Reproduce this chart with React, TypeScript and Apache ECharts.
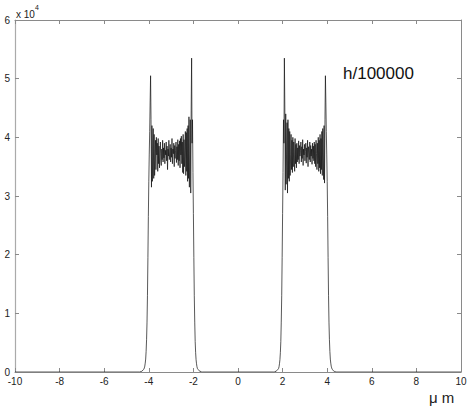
import { useEffect, useRef } from "react";
import * as echarts from "echarts";

// x range / ticks
const xMin = -10;
const xMax = 10;
const xStep = 2;
const yMin = 0;
const yMax = 6; // units of 10^4
const yStep = 1;

// sample spacing of the profile (µm)
const sampleStep = 0.02;

// left block: samples from -4.40 µm
const leftStart = -4.4;
const leftRise = [
  0.0, 0.0, 0.01, 0.01, 0.01, 0.02, 0.02, 0.03, 0.04, 0.05, 0.07, 0.1, 0.15, 0.22, 0.35, 0.55, 0.85,
  1.3, 1.95, 2.65, 3.25, 3.7, 4.1, 4.6, 5.05,
];
const leftNoise = [
  4.3, 3.15, 4.2, 3.25, 3.9, 4.15, 3.3, 4.05, 3.35, 3.6, 3.95,
  3.45, 4.0, 3.7, 3.9, 3.42, 3.98, 3.55, 3.85, 3.48, 3.72, 3.92, 3.6, 3.52, 3.8, 3.62,
  3.95, 3.58, 3.82, 3.65, 3.9, 3.55, 3.78, 3.7, 3.92, 3.6, 3.85, 3.45, 3.8, 3.68, 3.95, 3.62, 3.75, 3.88, 3.58, 3.82,
  3.66, 3.98, 3.55, 3.8, 3.72, 3.9, 3.5, 3.86, 3.64, 3.78, 3.92, 3.57, 3.84, 3.62, 3.96, 3.52, 3.88, 3.6, 3.94,
  3.48, 3.98, 3.7, 4.02, 3.55, 3.92, 3.4, 4.05, 3.38, 3.96, 3.5, 3.8, 4.1, 3.35, 4.08, 3.42,
  4.15, 3.25, 4.2, 3.3, 4.35, 3.15, 3.7, 4.3, 3.05, 4.45,
];
const leftFall = [
  5.35, 3.9, 4.3, 3.4, 2.7, 1.95, 1.3, 0.85, 0.52, 0.33, 0.21, 0.14, 0.09, 0.06, 0.05, 0.04, 0.03, 0.02,
  0.02, 0.01, 0.01, 0.01, 0.0, 0.0, 0.0,
];

// right block: samples from 1.60 µm
const rightStart = 1.6;
const rightRise = [
  0.0, 0.0, 0.0, 0.01, 0.01, 0.01, 0.02, 0.02, 0.03, 0.04, 0.05, 0.06, 0.09, 0.14, 0.21, 0.33, 0.52, 0.85,
  1.3, 1.95, 2.7, 3.4, 4.3, 3.9, 5.35,
];
const rightNoise = [
  4.5, 3.1, 4.4, 3.2, 3.8, 4.25, 3.05, 4.3, 3.3, 4.15,
  3.25, 4.1, 3.35, 3.7, 4.05, 3.45, 3.95, 3.4, 4.0, 3.5, 3.92, 3.75, 3.42, 3.98, 3.55, 3.88,
  3.48, 3.9, 3.58, 3.82, 3.62, 3.94, 3.55, 3.86, 3.68, 3.78, 3.92, 3.58, 3.84, 3.64, 3.96, 3.52, 3.8, 3.7, 3.88,
  3.6, 3.76, 3.9, 3.56, 3.82, 3.66, 3.95, 3.5, 3.84, 3.72, 3.62, 3.92, 3.58, 3.86, 3.68, 3.8, 3.54, 3.9, 3.64, 3.85,
  3.6, 3.92, 3.55, 3.88, 3.5, 3.95, 3.72, 3.45, 3.9, 3.55, 4.0, 3.42, 3.95, 3.48, 4.05,
  3.38, 3.98, 3.45, 4.1, 3.35, 4.15, 3.7, 3.28, 4.2, 3.22, 4.3,
];
const rightFall = [
  5.05, 4.6, 4.1, 3.7, 3.25, 2.65, 1.95, 1.3, 0.85, 0.55, 0.35, 0.22, 0.15, 0.1, 0.07, 0.05, 0.04, 0.03,
  0.02, 0.02, 0.01, 0.01, 0.01, 0.0, 0.0,
];

const toPoints = (start: number, values: number[]) =>
  values.map((v, i) => [Number((start + i * sampleStep).toFixed(2)), v]);

export default function App() {
  const ref = useRef<HTMLDivElement>(null);

  useEffect(() => {
    if (!ref.current) return;
    const chart = echarts.init(ref.current, undefined, { renderer: "svg" });

    const data = [
      [xMin, 0],
      ...toPoints(leftStart, [...leftRise, ...leftNoise, ...leftFall]),
      ...toPoints(rightStart, [...rightRise, ...rightNoise, ...rightFall]),
      [xMax, 0],
    ];

    const axisColor = "#8a8a8a";
    const font = "Liberation Sans, Arial, sans-serif";
    const labelStyle = { color: "#222", fontSize: 10, fontFamily: font };

    const frameAxis = (position: string, lineColor: string, lineWidth: number, showLabel: boolean, margin: number) => ({
      type: "value",
      position,
      axisLine: { show: true, onZero: false, lineStyle: { color: lineColor, width: lineWidth } },
      axisTick: { show: true, inside: true, length: 4, lineStyle: { color: axisColor } },
      axisLabel: showLabel ? { ...labelStyle, margin } : { show: false },
      splitLine: { show: false },
    });

    chart.setOption({
      animation: false,
      backgroundColor: "#fff",
      grid: { left: 15, right: 14, top: 20, bottom: 38, containLabel: false },
      xAxis: [
        { ...frameAxis("bottom", axisColor, 1, true, 4), min: xMin, max: xMax, interval: xStep },
        { ...frameAxis("top", axisColor, 1, false, 0), min: xMin, max: xMax, interval: xStep },
      ],
      yAxis: [
        { ...frameAxis("left", "#aaa", 1.2, true, 5), min: yMin, max: yMax, interval: yStep },
        { ...frameAxis("right", axisColor, 1, false, 0), min: yMin, max: yMax, interval: yStep },
      ],
      series: [
        {
          type: "line",
          xAxisIndex: 0,
          yAxisIndex: 0,
          data,
          showSymbol: false,
          symbol: "none",
          lineStyle: { color: "#111", width: 0.7 },
          silent: true,
        },
      ],
      graphic: [
        { type: "text", left: 16, top: 9, style: { text: "x 10", fontSize: 10, fill: "#222", fontFamily: font } },
        { type: "text", left: 35, top: 4, style: { text: "4", fontSize: 7, fill: "#222", fontFamily: font } },
        { type: "text", left: 343, top: 65, style: { text: "h/100000", fontSize: 17, fill: "#111", fontFamily: font } },
        { type: "text", left: 429, top: 390, style: { text: "μ m", fontSize: 15, fill: "#222", fontFamily: font } },
      ],
    });

    return () => chart.dispose();
  }, []);

  return <div ref={ref} style={{ width: 475, height: 410, position: "absolute", left: 0, top: 0 }} />;
}
